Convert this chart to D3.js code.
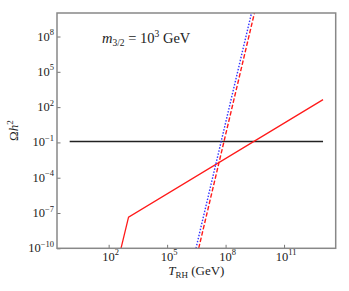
<!DOCTYPE html>
<meta charset="utf-8">
<style>
body { margin: 0; background: #fff; }
text { font-family: "Liberation Serif", "DejaVu Serif", serif; fill: #222; }
.frame { fill: none; stroke: #888; stroke-width: 1.5; }
.tick line { stroke: #777; }
</style>
<svg width="349" height="291"></svg>
<script src="https://cdn.jsdelivr.net/npm/d3@7"></script>
<script>

// x ticks, y ticks
var xTicks = [1e2, 1e5, 1e8, 1e11];
var yTicks = [1e-10, 1e-7, 1e-4, 1e-1, 1e2, 1e5, 1e8];

// observed relic density line
var obsT = [1, 1e13];
var obsOmega = 0.12;

// red solid curve
var solidT = [417, 1.05e3, 1e13];
var solidOmega = [8e-11, 4.4e-8, 437];

// red dashed curve
var dashT = [4.17e6, 3.02e9];
var dashOmega = [1e-10, 1e10];

// blue dotted curve
var dotT = [3.02e6, 2.14e9];
var dotOmega = [1e-10, 1e10];

var svg = d3.select("svg");

var pL = 57, pR = 335.7, pT = 13, pB = 248.3;

var x = d3.scaleLog()
    .domain([Math.pow(10, -0.65), Math.pow(10, 13.65)])
    .range([pL, pR]);

var y = d3.scaleLog()
    .domain([1e-10, 1e10])
    .range([pB, pT]);

svg.append("clipPath").attr("id", "clip")
  .append("rect")
    .attr("x", pL).attr("y", pT)
    .attr("width", pR - pL).attr("height", pB - pT);

var line = d3.line()
    .x(function(d) { return x(d[0]); })
    .y(function(d) { return y(d[1]); });

var plot = svg.append("g").attr("clip-path", "url(#clip)");

plot.append("path")
    .datum(obsT.map(function(t) { return [t, obsOmega]; }))
    .attr("d", line)
    .attr("fill", "none")
    .attr("stroke", "#222")
    .attr("stroke-width", 1.3);

plot.append("path")
    .datum(solidT.map(function(t, i) { return [t, solidOmega[i]]; }))
    .attr("d", line)
    .attr("fill", "none")
    .attr("stroke", "#ff1a1a")
    .attr("stroke-width", 1.3);

plot.append("path")
    .datum(dotT.map(function(t, i) { return [t, dotOmega[i]]; }))
    .attr("d", line)
    .attr("fill", "none")
    .attr("stroke", "#3333ff")
    .attr("stroke-width", 1.4)
    .attr("stroke-dasharray", "1.5,1.6");

plot.append("path")
    .datum(dashT.map(function(t, i) { return [t, dashOmega[i]]; }))
    .attr("d", line)
    .attr("fill", "none")
    .attr("stroke", "#ff1a1a")
    .attr("stroke-width", 1.4)
    .attr("stroke-dasharray", "4.5,2");

function sup(sel) {
  sel.each(function(d) {
    var e = Math.round(Math.log10(d));
    var t = d3.select(this).text("");
    t.append("tspan").text("10");
    t.append("tspan")
        .attr("dy", -5.5)
        .attr("font-size", "8.5px")
        .text(e < 0 ? "\u2212" + (-e) : e);
  });
}

// x axis
var gx = svg.append("g").attr("transform", "translate(0," + pB + ")");
gx.call(d3.axisBottom(x).tickValues(xTicks).tickSize(-3.5).tickFormat(""))
  .select(".domain").remove();
gx.selectAll(".tick text").remove();
gx.selectAll(".lbl")
  .data(xTicks)
  .enter().append("text")
    .attr("x", function(d) { return x(d) + 2; })
    .attr("y", 12.5)
    .attr("text-anchor", "middle")
    .attr("font-size", "12.5px")
    .call(sup);

// y axis
var gy = svg.append("g").attr("transform", "translate(" + pL + ",0)");
gy.call(d3.axisLeft(y).tickValues(yTicks).tickSize(-3.5).tickFormat(""))
  .select(".domain").remove();
gy.selectAll(".tick text").remove();
gy.selectAll(".lbl")
  .data(yTicks)
  .enter().append("text")
    .attr("x", -3)
    .attr("y", function(d) { return y(d) + 4; })
    .attr("text-anchor", "end")
    .attr("font-size", "12.5px")
    .call(sup);

svg.append("rect")
    .attr("class", "frame")
    .attr("x", pL).attr("y", pT)
    .attr("width", pR - pL).attr("height", pB - pT);

// axis labels
var xl = svg.append("text")
    .attr("x", (pL + pR) / 2)
    .attr("y", 275)
    .attr("text-anchor", "middle")
    .attr("font-size", "13px");
xl.append("tspan").attr("font-style", "italic").text("T");
xl.append("tspan").attr("font-size", "9px").attr("dy", 2.5).text("RH");
xl.append("tspan").attr("dy", -2.5).text(" (GeV)");

var yl = svg.append("text")
    .attr("transform", "translate(18," + (pT + pB) / 2 + ") rotate(-90)")
    .attr("text-anchor", "middle")
    .attr("font-size", "13px");
yl.append("tspan").text("\u03a9");
yl.append("tspan").attr("font-style", "italic").text("h");
yl.append("tspan").attr("font-size", "9px").attr("dy", -5).text("2");

// annotation
var an = svg.append("text")
    .attr("x", 102)
    .attr("y", 43)
    .attr("font-size", "14.5px");
an.append("tspan").attr("font-style", "italic").text("m");
an.append("tspan").attr("font-size", "9.5px").attr("dy", 3).text("3/2");
an.append("tspan").attr("dy", -3).text(" = 10");
an.append("tspan").attr("font-size", "9.5px").attr("dy", -6).text("3");
an.append("tspan").attr("dy", 6).text(" GeV");

</script>
